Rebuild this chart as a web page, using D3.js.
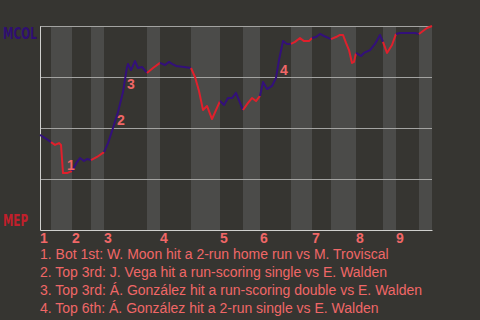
<!DOCTYPE html>
<html>
<head>
<meta charset="utf-8">
<script src="https://cdn.jsdelivr.net/npm/d3@7"></script>
<style>
  body { margin: 0; background: #363531; }
  svg { display: block; }
  .team { font-family: 'DejaVu Sans', sans-serif; font-size: 15px; font-weight: bold; }
</style>
</head>
<body>
<script>
// set the dimensions and margins of the graph
var margin = {top: 26, right: 48, bottom: 90, left: 40},
    width = 480 - margin.left - margin.right,
    height = 320 - margin.top - margin.bottom;

var awayTeam = "MCOL",
    homeTeam = "MEP";

var innings = [1, 2, 3, 4, 5, 6, 7, 8, 9];

// MCOL win probability, [game progress, probability], one list per half inning
var top1 = [[0, 0.466], [1.25, 0.451], [2.75, 0.431]];
var bot1 = [[3.75, 0.417], [4.75, 0.426], [5.25, 0.417], [5.75, 0.279], [6.75, 0.279], [8, 0.289]];
var top2 = [[9.25, 0.333], [10, 0.353], [11, 0.338], [11.75, 0.348], [12.75, 0.343]];
var bot2 = [[14.25, 0.358], [16, 0.382]];
var top3 = [[17, 0.426], [18.25, 0.5], [19.5, 0.578], [20.75, 0.676], [21.75, 0.799], [22, 0.814],
            [22.75, 0.784], [23.75, 0.828], [24.5, 0.794], [25.5, 0.799], [26.75, 0.77]];
var bot3 = [[28.25, 0.794], [30, 0.819]];
var top4 = [[31.25, 0.809], [32.25, 0.824], [33, 0.814], [34, 0.804], [36, 0.799], [37.75, 0.794]];
var bot4 = [[38.75, 0.75], [39.75, 0.681], [40.75, 0.588], [41.75, 0.608], [43, 0.544], [45, 0.632]];
var top5 = [[46, 0.613], [47, 0.647], [48, 0.647], [49, 0.672], [50.75, 0.588]];
var bot5 = [[52, 0.623], [53, 0.647], [54, 0.632], [55, 0.657]];
var top6 = [[55.75, 0.725], [56.75, 0.691], [58, 0.706], [59, 0.745], [59.75, 0.833], [60.75, 0.926],
            [61.75, 0.912], [62.75, 0.912]];
var bot6 = [[63.75, 0.922], [65, 0.941], [66, 0.926], [67.25, 0.926], [68, 0.941]];
var top7 = [[69, 0.946], [70, 0.961], [71, 0.951], [72.75, 0.936]];
var bot7 = [[74, 0.946], [75, 0.956], [75.75, 0.956], [76.5, 0.917], [77.25, 0.882], [78, 0.819],
            [78.5, 0.824], [79, 0.868]];
var top8 = [[80.25, 0.853], [81, 0.868], [82.5, 0.882], [83.75, 0.912], [85, 0.956], [85.75, 0.922]];
var bot8 = [[86.75, 0.868], [88, 0.907], [89, 0.961]];
var top9 = [[90, 0.966], [91.25, 0.966], [93.75, 0.966], [94.75, 0.961]];
var bot9 = [[96.75, 0.99], [98, 1]];

var halves = [top1, bot1, top2, bot2, top3, bot3, top4, bot4, top5, bot5,
              top6, bot6, top7, bot7, top8, bot8, top9, bot9];

// scoring plays and where their numbers sit: [half inning, point]
var scoringPlays = [
    "1. Bot 1st: W. Moon hit a 2-run home run vs M. Troviscal",
    "2. Top 3rd: J. Vega hit a run-scoring single vs E. Walden",
    "3. Top 3rd: \u00c1. Gonz\u00e1lez hit a run-scoring double vs E. Walden",
    "4. Top 6th: \u00c1. Gonz\u00e1lez hit a 2-run single vs E. Walden"
];
var markerAt = [[1, 3], [4, 1], [4, 3], [10, 3]];

var awayColor = "#33107a",
    homeColor = "#e0202c",
    textColor = "#f06767";

// set the ranges
var x = d3.scaleLinear().domain([0, 98]).range([0, width]);
var y = d3.scaleLinear().domain([0, 1]).range([height, 0]);

var wpLine = d3.line()
    .x(function(d) { return x(d[0]); })
    .y(function(d) { return y(d[1]); });

var svg = d3.select("body").append("svg")
    .attr("width", width + margin.left + margin.right)
    .attr("height", height + margin.top + margin.bottom)
    .style("font-family", "'Liberation Sans', Arial, sans-serif")
    .append("g")
    .attr("transform", "translate(" + margin.left + "," + margin.top + ")");

// each half inning carries on from where the last one ended
var segments = halves.map(function(h, i) {
    var start = i === 0 ? [] : [halves[i - 1][halves[i - 1].length - 1]];
    return { index: i, bottom: i % 2 === 1, points: start.concat(h) };
});

// shaded bands for the bottom halves
svg.selectAll(".band")
    .data(segments.filter(function(s) { return s.bottom; }))
    .enter().append("rect")
    .attr("class", "band")
    .attr("x", function(s) { return x(s.points[0][0]); })
    .attr("width", function(s) { return x(s.points[s.points.length - 1][0]) - x(s.points[0][0]); })
    .attr("y", 0)
    .attr("height", height)
    .attr("fill", "#4b4b49");

// grid lines
var grid = svg.append("g")
    .call(d3.axisLeft(y).tickValues([0.25, 0.5, 0.75, 1]).tickSize(-width).tickFormat(""));
grid.select(".domain").remove();
grid.selectAll(".tick line").attr("stroke", "#a3a3a1").attr("stroke-width", 1);

// axes lines
var yAxis = svg.append("g").call(d3.axisLeft(y).tickValues([]).tickSizeOuter(0));
yAxis.select(".domain").attr("stroke", "#cfcfcd");
var xAxis = svg.append("g")
    .attr("transform", "translate(0," + height + ")")
    .call(d3.axisBottom(x).tickValues([]).tickSizeOuter(0));
xAxis.select(".domain").attr("stroke", "#cfcfcd");

// win probability line, coloured by the team at bat
svg.selectAll(".wp")
    .data(segments)
    .enter().append("path")
    .attr("class", "wp")
    .attr("d", function(s) { return wpLine(s.points); })
    .attr("fill", "none")
    .attr("stroke", function(s) { return s.bottom ? homeColor : awayColor; })
    .attr("stroke-width", 2)
    .attr("stroke-linejoin", "round");

// scoring play numbers
svg.selectAll(".marker")
    .data(markerAt)
    .enter().append("text")
    .attr("class", "marker")
    .attr("x", function(m) { return x(halves[m[0]][m[1]][0]) + 4; })
    .attr("y", function(m) { return y(halves[m[0]][m[1]][1]) - 3; })
    .attr("fill", textColor)
    .style("font-size", "14px")
    .style("font-weight", "bold")
    .text(function(m, i) { return i + 1; });

// inning numbers at the start of each top half
svg.selectAll(".inning")
    .data(innings)
    .enter().append("text")
    .attr("class", "inning")
    .attr("x", function(d) {
        var i = (d - 1) * 2;
        return i === 0 ? x(0) : x(halves[i - 1][halves[i - 1].length - 1][0]);
    })
    .attr("y", height + 13)
    .attr("fill", textColor)
    .style("font-size", "14px")
    .style("font-weight", "bold")
    .text(function(d) { return d; });

// team labels, squeezed like a condensed face
svg.append("text")
    .attr("class", "team")
    .attr("x", 3 - margin.left)
    .attr("y", 13)
    .attr("textLength", 34)
    .attr("lengthAdjust", "spacingAndGlyphs")
    .attr("fill", "#2f0e72")
    .text(awayTeam);

svg.append("text")
    .attr("class", "team")
    .attr("x", 3 - margin.left)
    .attr("y", height - 4)
    .attr("textLength", 25)
    .attr("lengthAdjust", "spacingAndGlyphs")
    .attr("fill", "#c11f2b")
    .text(homeTeam);

// list of scoring plays
svg.selectAll(".play")
    .data(scoringPlays)
    .enter().append("text")
    .attr("class", "play")
    .attr("x", 0)
    .attr("y", function(d, i) { return height + 29 + i * 18; })
    .attr("fill", textColor)
    .style("font-size", "14px")
    .text(function(d) { return d; });
</script>
</body>
</html>
